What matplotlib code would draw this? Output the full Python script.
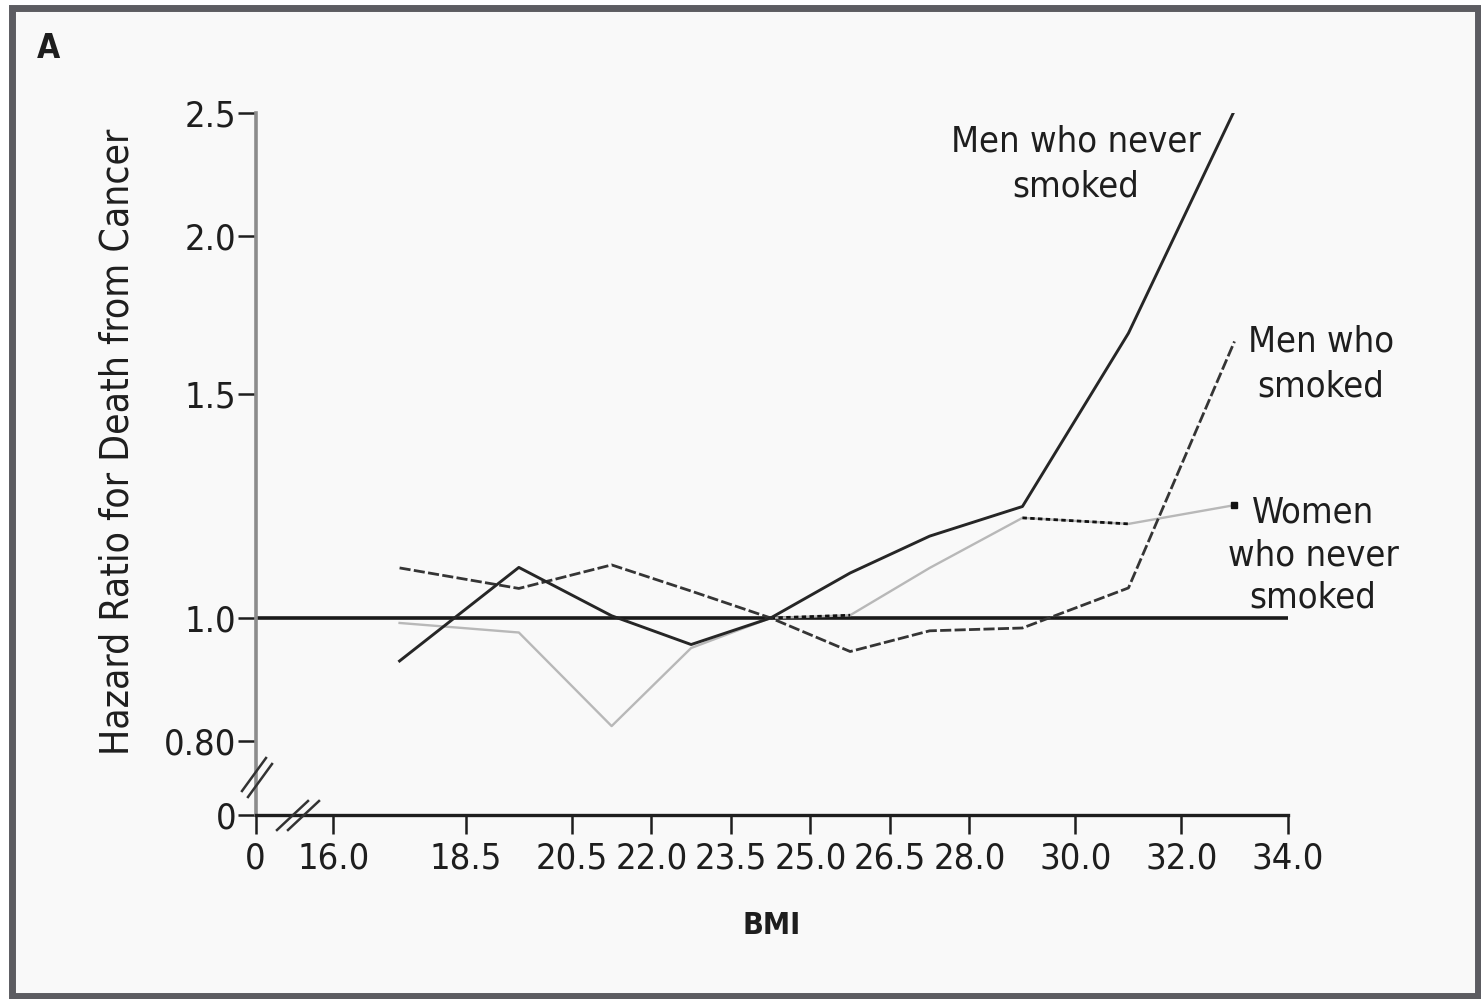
import matplotlib
matplotlib.use("Agg")
import matplotlib.pyplot as plt
from matplotlib.lines import Line2D
from matplotlib.patches import Rectangle
import matplotlib.ticker as mticker

# ---------------- data ----------------
bmi_mid = [17.25, 19.5, 21.25, 22.75, 24.25, 25.75, 27.25, 29.0, 31.0, 33.0]
men_never = [0.925, 1.096, 1.004, 0.953, 1.0, 1.085, 1.16, 1.224, 1.676, 2.51]
men_smoked = [1.095, 1.055, 1.101, 1.05, 1.0, 0.941, 0.977, 0.982, 1.056, 1.651]
women_never = [0.991, 0.974, 0.822, 0.947, 1.0, 1.005, 1.095, 1.199, 1.186, 1.227]

x_ticks = [0, 16.0, 18.5, 20.5, 22.0, 23.5, 25.0, 26.5, 28.0, 30.0, 32.0, 34.0]
x_tick_labels = ["0", "16.0", "18.5", "20.5", "22.0", "23.5", "25.0", "26.5",
                 "28.0", "30.0", "32.0", "34.0"]
y_ticks = [0.70, 0.80, 1.0, 1.5, 2.0, 2.5]
y_tick_labels = ["0", "0.80", "1.0", "1.5", "2.0", "2.5"]
reference_hr = 1.0

labels = {
    "men_never": "Men who never\nsmoked",
    "men_smoked": "Men who\nsmoked",
    "women_never": "Women\nwho never\nsmoked",
}

# ---------------- layout helpers ----------------
W, H = 1481, 999
BREAK_POS = 14.534   # where the "0" of the broken x axis sits


def xmap(v):
    return v if v >= 16 else BREAK_POS + v


def px(x, y):
    return (x / W, 1 - y / H)


plt.rcParams["font.family"] = ["DejaVu Sans"]
plt.rcParams["font.stretch"] = "condensed"

fig = plt.figure(figsize=(W / 100, H / 100), dpi=100, facecolor="white")

# frame
fig.patches.append(Rectangle(px(12, 996), (1478 - 12) / W, (996 - 8) / H,
                             transform=fig.transFigure, facecolor="#f9f9f9",
                             edgecolor="#5c5c61", linewidth=5, zorder=-5))

ax = fig.add_axes([255.6 / W, 1 - 814.7 / H, (1287.5 - 255.6) / W,
                   (814.7 - 112.6) / H])
ax.set_zorder(2)
ax.set_facecolor("none")
ax.set_yscale("log")
ax.set_xlim(BREAK_POS, 34.0)
ax.set_ylim(0.70, 2.5)

for s in ("top", "right"):
    ax.spines[s].set_visible(False)
ax.spines["left"].set_color("#8c8c8c")
ax.spines["left"].set_linewidth(2.6)
ax.spines["bottom"].set_color("#1e1e1e")
ax.spines["bottom"].set_linewidth(2.4)

ax.yaxis.set_major_locator(mticker.FixedLocator(y_ticks))
ax.yaxis.set_major_formatter(mticker.FixedFormatter(y_tick_labels))
ax.yaxis.set_minor_locator(mticker.NullLocator())
ax.set_xticks([xmap(v) for v in x_ticks])
ax.set_xticklabels(x_tick_labels)

ax.tick_params(axis="y", length=13, width=1.8, color="#1e1e1e", pad=1,
               labelsize=26, labelcolor="#1e1e1e")
ax.tick_params(axis="x", length=14, width=1.8, color="#1e1e1e", pad=5,
               labelsize=26, labelcolor="#1e1e1e")

# reference line
ax.plot([BREAK_POS, 34.0], [reference_hr, reference_hr], color="#1a1a1a",
        lw=2.6, solid_capstyle="butt", zorder=2)

# series
ax.plot(bmi_mid, women_never, color="#b8b8b8", lw=1.7, zorder=3)
ax.plot(bmi_mid[4:6], women_never[4:6], color="#111111", lw=2.0,
        ls=(0, (1.6, 1.2)), zorder=3)
ax.plot(bmi_mid[7:9], women_never[7:9], color="#111111", lw=2.0,
        ls=(0, (1.6, 1.2)), zorder=3)
ax.plot(bmi_mid[-1:], women_never[-1:], marker="s", ms=4, color="#111111",
        zorder=3)
ax.plot(bmi_mid, men_smoked, color="#353535", lw=2.0, dashes=(4.0, 1.2),
        zorder=4)
ax.plot(bmi_mid, men_never, color="#262626", lw=2.1, zorder=5)

# labels
fig.text(*px(1076, 164), labels["men_never"], ha="center", va="center",
         fontsize=26, color="#1e1e1e", linespacing=1.42)
fig.text(*px(1321, 364), labels["men_smoked"], ha="center", va="center",
         fontsize=26, color="#1e1e1e", linespacing=1.42)
fig.text(*px(1313, 555), labels["women_never"], ha="center", va="center",
         fontsize=26, color="#1e1e1e", linespacing=1.3)

fig.text(*px(118, 442), "Hazard Ratio for Death from Cancer", rotation=90,
         ha="center", va="center", fontsize=28, color="#1e1e1e")
fig.text(*px(772, 925), "BMI", ha="center", va="center", fontsize=22,
         fontweight="bold", color="#1e1e1e")
fig.text(*px(48, 48), "A", ha="center", va="center", fontsize=24,
         fontweight="bold", color="#1e1e1e")

# axis break marks
for (x0, y0, x1, y1) in [(242, 791, 266, 758), (248, 797, 272, 764),
                         (277, 830, 308, 801), (288, 830, 319, 801)]:
    fig.add_artist(Line2D([x0 / W, x1 / W], [1 - y0 / H, 1 - y1 / H],
                          transform=fig.transFigure, color="#333333", lw=1.8,
                          zorder=5))

fig.savefig("out.png", dpi=100, facecolor="white")
